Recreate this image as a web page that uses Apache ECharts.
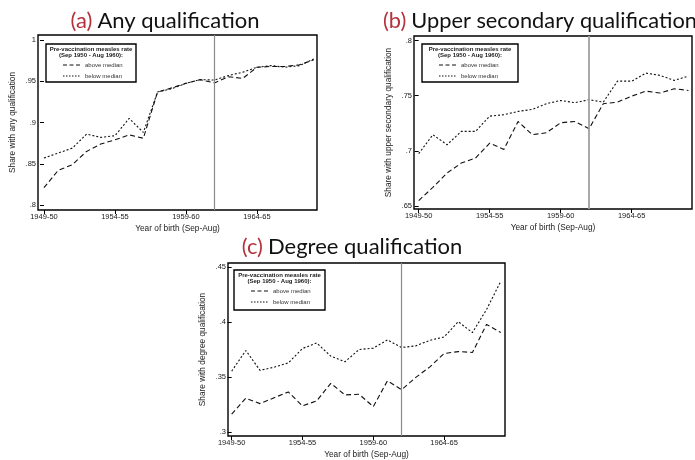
<!DOCTYPE html>
<html>
<head>
<meta charset="utf-8">
<title>Qualifications by birth cohort and pre-vaccination measles rate</title>
<script src="https://cdn.jsdelivr.net/npm/echarts@6/dist/echarts.min.js"></script>
<style>
  html, body { margin: 0; padding: 0; background: #fff; }
  #chart { width: 695px; height: 460px; }
</style>
</head>
<body>
<div id="chart"></div>
<script>
// Birth cohorts (Sep-Aug school years)
const cohorts = ['1949-50', '1950-51', '1951-52', '1952-53', '1953-54', '1954-55', '1955-56',
  '1956-57', '1957-58', '1958-59', '1959-60', '1960-61', '1961-62', '1962-63', '1963-64',
  '1964-65', '1965-66', '1966-67', '1967-68', '1968-69'];
const xTickCohorts = ['1949-50', '1954-55', '1959-60', '1964-65'];
const cutoffCohort = '1961-62';

// Share with any qualification
const anyAbove = [0.821, 0.842, 0.849, 0.865, 0.874, 0.879, 0.885, 0.881, 0.937, 0.942,
  0.9475, 0.952, 0.948, 0.9555, 0.9535, 0.967, 0.968, 0.968, 0.970, 0.976];
const anyBelow = [0.857, 0.863, 0.869, 0.886, 0.882, 0.884, 0.905, 0.888, 0.937, 0.941,
  0.9475, 0.952, 0.9515, 0.957, 0.961, 0.967, 0.969, 0.967, 0.969, 0.977];
const anyTicks = [0.8, 0.85, 0.9, 0.95, 1];

// Share with upper secondary qualification
const upperAbove = [0.655, 0.667, 0.680, 0.689, 0.6935, 0.707, 0.7014, 0.7267, 0.7147, 0.7165,
  0.7255, 0.7267, 0.7201, 0.7428, 0.7442, 0.7496, 0.7542, 0.7524, 0.7563, 0.7548];
const upperBelow = [0.6975, 0.7147, 0.7056, 0.7177, 0.7177, 0.7315, 0.7328, 0.7358, 0.7376, 0.7428,
  0.7457, 0.7437, 0.7464, 0.7442, 0.7632, 0.7632, 0.7705, 0.7684, 0.7639, 0.7678];
const upperTicks = [0.65, 0.7, 0.75, 0.8];

// Share with degree qualification
const degreeAbove = [0.3163, 0.3308, 0.3259, 0.3313, 0.3365, 0.3238, 0.3284, 0.3444, 0.3338, 0.3344,
  0.3232, 0.3467, 0.3386, 0.3498, 0.3594, 0.3716, 0.3733, 0.3725, 0.3981, 0.3906];
const degreeBelow = [0.3555, 0.3743, 0.3562, 0.3591, 0.363, 0.3761, 0.3812, 0.3691, 0.364, 0.3752,
  0.3764, 0.3839, 0.377, 0.3785, 0.3836, 0.3866, 0.4005, 0.3906, 0.4117, 0.4373];
const degreeTicks = [0.3, 0.35, 0.4, 0.45];

const legendTitle1 = 'Pre-vaccination measles rate';
const legendTitle2 = '(Sep 1950 - Aug 1960):';
const aboveName = 'above median';
const belowName = 'below median';

const TEXT = '#1a1a1a';
const FONT = '"Liberation Sans", Arial, Helvetica, sans-serif';
const TITLE_FONT = 'Lato, "Noto Sans", sans-serif';

const panels = [
  { key: 'a', title: 'Any qualification', yName: 'Share with any qualification',
    above: anyAbove, below: anyBelow, ticks: anyTicks,
    grid: { left: 38, top: 35, width: 279, height: 175 },
    xMin: -0.42, xMax: 19.23, yMin: 0.794, yMax: 1.0061,
    titleX: 160, titleY: 5, titleSize: 22, legend: { x: 46, y: 44, w: 90, h: 38 }, cutColor: '#8a8a8a', cutWidth: 1.2 },
  { key: 'b', title: 'Upper secondary qualification', yName: 'Share with upper secondary qualification',
    above: upperAbove, below: upperBelow, ticks: upperTicks,
    grid: { left: 414, top: 36, width: 278, height: 173 },
    xMin: -0.33, xMax: 19.25, yMin: 0.6474, yMax: 0.8041,
    titleX: 535, titleY: 5, titleSize: 21.8, legend: { x: 422, y: 44, w: 96, h: 38 }, cutColor: '#a0a0a0', cutWidth: 1.8 },
  { key: 'c', title: 'Degree qualification', yName: 'Share with degree qualification',
    above: degreeAbove, below: degreeBelow, ticks: degreeTicks,
    grid: { left: 228, top: 263, width: 277, height: 174 },
    xMin: -0.26, xMax: 19.30, yMin: 0.2964, yMax: 0.454,
    titleX: 347, titleY: 231, titleSize: 22, legend: { x: 234, y: 270, w: 91, h: 40 }, cutColor: '#8a8a8a', cutWidth: 1.2 }
];

const tickFmt = v => {
  const s = String(+v.toFixed(3));
  return s.startsWith('0.') ? s.slice(1) : s;
};
const xTickIdx = xTickCohorts.map(c => cohorts.indexOf(c));
const cutIdx = cohorts.indexOf(cutoffCohort);
const toPairs = arr => arr.map((v, i) => [i, v]);

const grids = [], xAxes = [], yAxes = [], series = [], titles = [], graphics = [];

panels.forEach((p, k) => {
  grids.push(Object.assign({ show: true, borderColor: '#000', borderWidth: 1.4, backgroundColor: '#fff' }, p.grid));

  xAxes.push({
    type: 'value', gridIndex: k, min: p.xMin, max: p.xMax,
    name: 'Year of birth (Sep-Aug)', nameLocation: 'middle', nameGap: 15,
    nameTextStyle: { fontFamily: FONT, fontSize: 8.3, color: TEXT },
    axisLine: { show: false },
    splitLine: { show: false },
    axisTick: { show: true, inside: false, length: 4, customValues: xTickIdx, lineStyle: { color: '#000', width: 1 } },
    axisLabel: { customValues: xTickIdx, margin: 3, fontFamily: FONT, fontSize: 7.5, color: TEXT,
      formatter: v => cohorts[Math.round(v)] }
  });

  yAxes.push({
    type: 'value', gridIndex: k, min: p.yMin, max: p.yMax,
    name: p.yName, nameLocation: 'middle', nameGap: 21, nameRotate: 90,
    nameTextStyle: { fontFamily: FONT, fontSize: 8.3, color: TEXT },
    axisLine: { show: false },
    splitLine: { show: false },
    axisTick: { show: true, inside: false, length: 4, customValues: p.ticks, lineStyle: { color: '#000', width: 1 } },
    axisLabel: { customValues: p.ticks, margin: 2, fontFamily: FONT, fontSize: 7.5, color: TEXT, formatter: tickFmt }
  });

  series.push({
    name: aboveName, type: 'line', xAxisIndex: k, yAxisIndex: k,
    data: toPairs(p.above), showSymbol: false, symbol: 'none',
    lineStyle: { color: '#111', width: 1.1, type: [5, 3] },
    markLine: {
      silent: true, symbol: 'none', label: { show: false },
      lineStyle: { color: p.cutColor, width: p.cutWidth, type: 'solid' },
      data: [{ xAxis: cutIdx }]
    },
    z: 3
  });
  series.push({
    name: belowName, type: 'line', xAxisIndex: k, yAxisIndex: k,
    data: toPairs(p.below), showSymbol: false, symbol: 'none',
    lineStyle: { color: '#111', width: 1.1, type: [2, 2] },
    z: 3
  });

  titles.push({
    text: '{r|(' + p.key + ')} {k|' + p.title + '}',
    left: p.titleX, top: p.titleY, textAlign: 'center',
    textStyle: {
      fontWeight: 'normal',
      rich: {
        r: { fontFamily: TITLE_FONT, fontSize: p.titleSize, fontWeight: 'normal', color: '#b5313b' },
        k: { fontFamily: TITLE_FONT, fontSize: p.titleSize, fontWeight: 'normal', color: '#111' }
      }
    }
  });

  // Legend box for the measles-rate split
  const L = p.legend;
  const cx = L.x + L.w / 2;
  const sampleX0 = L.x + 17, sampleX1 = L.x + 35, textX = L.x + 39;
  graphics.push(
    { type: 'rect', shape: { x: L.x, y: L.y, width: L.w, height: L.h }, z: 10,
      style: { fill: '#fff', stroke: '#000', lineWidth: 1.4 } },
    { type: 'text', x: cx, y: L.y + 5, z: 11,
      style: { text: legendTitle1, fontFamily: FONT, fontWeight: 'bold', fontSize: 6, fill: TEXT, align: 'center', verticalAlign: 'middle' } },
    { type: 'text', x: cx, y: L.y + 11, z: 11,
      style: { text: legendTitle2, fontFamily: FONT, fontWeight: 'bold', fontSize: 6, fill: TEXT, align: 'center', verticalAlign: 'middle' } },
    { type: 'line', shape: { x1: sampleX0, y1: L.y + 21, x2: sampleX1, y2: L.y + 21 }, z: 11,
      style: { stroke: '#111', lineWidth: 1, lineDash: [4, 2.5] } },
    { type: 'text', x: textX, y: L.y + 21, z: 11,
      style: { text: aboveName, fontFamily: FONT, fontSize: 6, fill: '#333', align: 'left', verticalAlign: 'middle' } },
    { type: 'line', shape: { x1: sampleX0, y1: L.y + 32, x2: sampleX1, y2: L.y + 32 }, z: 11,
      style: { stroke: '#111', lineWidth: 1, lineDash: [1.5, 1.5] } },
    { type: 'text', x: textX, y: L.y + 32, z: 11,
      style: { text: belowName, fontFamily: FONT, fontSize: 6, fill: '#333', align: 'left', verticalAlign: 'middle' } }
  );
});

const chart = echarts.init(document.getElementById('chart'), null, { renderer: 'canvas' });
chart.setOption({
  backgroundColor: '#fff',
  animation: false,
  title: titles,
  grid: grids,
  xAxis: xAxes,
  yAxis: yAxes,
  series: series,
  graphic: graphics
});
</script>
</body>
</html>
